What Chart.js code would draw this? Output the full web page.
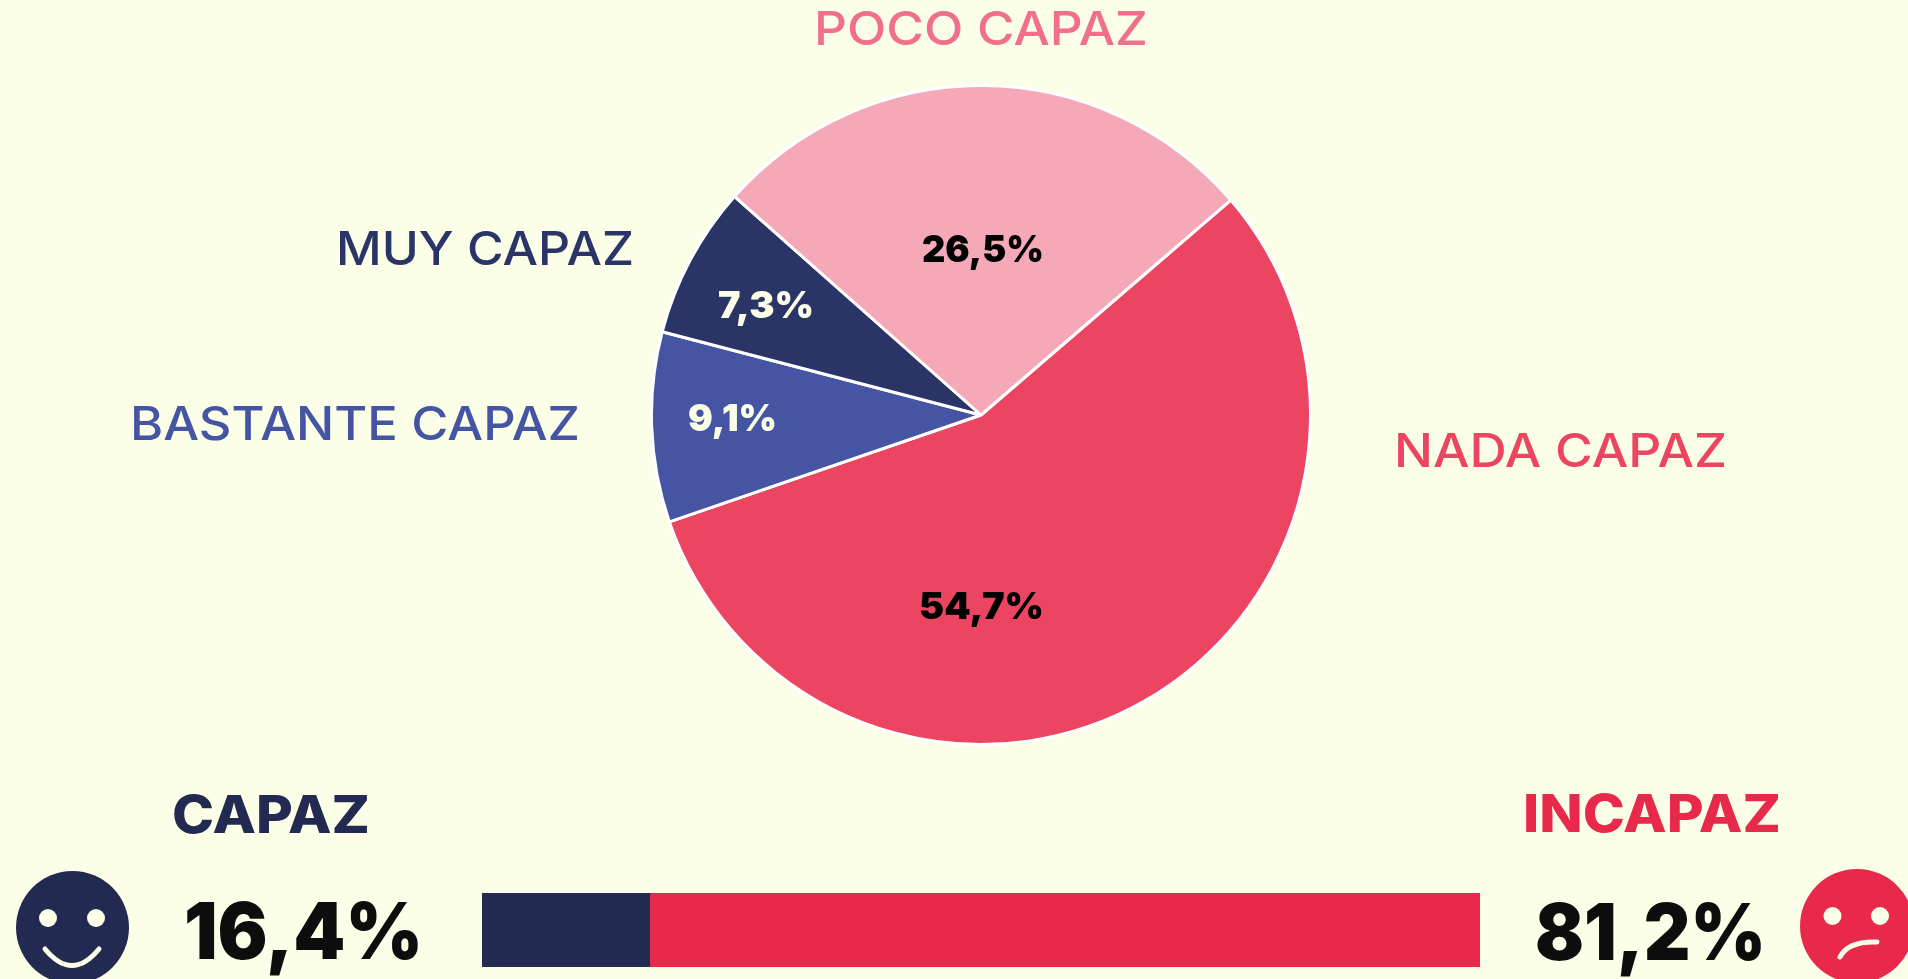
<!DOCTYPE html>
<html lang="es"><head><meta charset="utf-8">
<script src="https://cdn.jsdelivr.net/npm/chart.js@4"></script>
<style>
html,body{margin:0;padding:0;width:1908px;height:979px;overflow:hidden;background:#FBFFE7}
canvas{position:absolute;display:block}
#pie{left:650px;top:84px}
#bar{left:482px;top:893px}
svg{position:absolute;left:0;top:0}
text{font-family:Inter,"Open Sans",sans-serif}
</style></head><body>
<canvas id="pie" width="662" height="662" style="width:662px;height:662px"></canvas>
<canvas id="bar" width="998" height="74" style="width:998px;height:74px"></canvas>
<svg id="ov" width="1908" height="979" xmlns="http://www.w3.org/2000/svg">
  <circle cx="72.5" cy="927.5" r="56.5" fill="#222A52"/>
  <circle cx="48" cy="918" r="9" fill="#FBFFE7"/><circle cx="96" cy="918" r="9" fill="#FBFFE7"/>
  <path d="M45 949 Q72 982 99 949" fill="none" stroke="#FBFFE7" stroke-width="5" stroke-linecap="round"/>
  <circle cx="1857" cy="926" r="57" fill="#E8294C"/>
  <circle cx="1832.5" cy="916" r="9" fill="#FBFFE7"/><circle cx="1880" cy="916" r="9" fill="#FBFFE7"/>
  <path d="M1840 957 Q1848 941 1877 942" fill="none" stroke="#FBFFE7" stroke-width="5" stroke-linecap="round"/>
</svg>
<script>
const categories = ["NADA CAPAZ", "BASTANTE CAPAZ", "MUY CAPAZ", "POCO CAPAZ"];
const sliceValues = [54.7, 9.1, 7.3, 26.5];
const sliceColors = ["#EC4561", "#4655A3", "#2B3467", "#F5A9B8"];
const summaryLabels = ["CAPAZ", "INCAPAZ"];
const summaryValues = [16.4, 81.2];
const summaryColors = ["#222A52", "#E8294C"];
const fmt = v => v.toFixed(1).replace(".", ",") + "%";

new Chart(document.getElementById("pie"), {
  type: "pie",
  data: { labels: categories, datasets: [{ data: sliceValues, backgroundColor: sliceColors,
    borderColor: "#FFFFFF", borderWidth: 3 }] },
  options: { responsive: false, animation: false, rotation: 49.3,
    plugins: { legend: { display: false }, tooltip: { enabled: false } } }
});
new Chart(document.getElementById("bar"), {
  type: "bar",
  data: { labels: [""], datasets: summaryValues.map((v, i) => ({ label: summaryLabels[i], data: [v],
    backgroundColor: summaryColors[i], barPercentage: 1, categoryPercentage: 1, borderWidth: 0 })) },
  options: { indexAxis: "y", responsive: false, animation: false,
    scales: { x: { display: false, stacked: true, min: 0, max: summaryValues[0] + summaryValues[1] },
              y: { display: false, stacked: true } },
    plugins: { legend: { display: false }, tooltip: { enabled: false } } }
});

const svg = document.getElementById("ov");
function put(t, x0, x1, base, size, weight, fill) {
  const e = document.createElementNS("http://www.w3.org/2000/svg", "text");
  e.textContent = t;
  e.setAttribute("x", x0); e.setAttribute("y", base);
  e.setAttribute("font-size", size); e.setAttribute("font-weight", weight);
  e.setAttribute("fill", fill);
  e.setAttribute("textLength", x1 - x0); e.setAttribute("lengthAdjust", "spacingAndGlyphs");
  e.setAttribute("xml:space", "preserve");
  svg.appendChild(e);
}
put(categories[3], 814, 1148, 45, 47, 500, "#F0708C");
put(categories[2], 336, 634, 265, 47, 500, "#2B3467");
put(categories[1], 130, 580, 440, 47, 500, "#4655A3");
put(categories[0], 1394, 1727, 467, 47, 500, "#EC4561");
put(fmt(sliceValues[3]), 922, 1044, 262, 37, 900, "#000000");
put(fmt(sliceValues[2]), 718, 814, 318, 37, 900, "#FBFFE7");
put(fmt(sliceValues[1]), 688, 777, 431, 37, 900, "#FBFFE7");
put(fmt(sliceValues[0]), 919, 1044, 619, 37, 900, "#000000");
put(summaryLabels[0], 172, 370, 833, 52, 800, summaryColors[0]);
put(summaryLabels[1], 1523, 1781, 832, 52, 800, summaryColors[1]);
put(fmt(summaryValues[0]), 184, 423, 959, 78, 900, "#0D0D0D");
put(fmt(summaryValues[1]), 1535, 1766, 960, 78, 900, "#0D0D0D");
</script>
</body></html>
